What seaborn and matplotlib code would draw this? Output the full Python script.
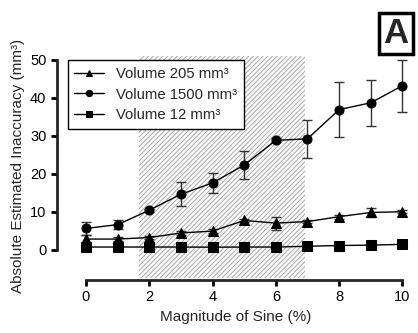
import numpy as np
import pandas as pd
import matplotlib
matplotlib.use("Agg")
import matplotlib.pyplot as plt
from matplotlib.patches import Rectangle
import seaborn as sns

# data
magnitude = [0, 1, 2, 3, 4, 5, 6, 7, 8, 9, 10]
vol_205 = [2.8, 2.8, 3.2, 4.4, 4.9, 7.7, 7.0, 7.4, 8.7, 9.8, 10.0]
err_205 = [1.0, 0.5, 0.3, 0.5, 0.6, 0.5, 1.7, 0.4, 0.5, 1.2, 0.4]
vol_1500 = [5.6, 6.6, 10.4, 14.6, 17.6, 22.3, 28.8, 29.2, 36.9, 38.7, 43.2]
err_1500 = [1.8, 1.2, 0.4, 3.2, 2.7, 3.6, 0.5, 5.0, 7.3, 6.0, 6.8]
vol_12 = [0.7, 0.7, 0.7, 0.7, 0.65, 0.7, 0.7, 0.9, 1.1, 1.2, 1.4]
err_12 = [0.2, 0.2, 0.2, 0.2, 0.2, 0.2, 0.2, 0.2, 0.2, 0.2, 0.2]
series = ["Volume 205 mm³", "Volume 1500 mm³", "Volume 12 mm³"]
shade_range = (1.68, 6.92)

values = [vol_205, vol_1500, vol_12]
errors = [err_205, err_1500, err_12]
df = pd.DataFrame({
    "x": magnitude * 3,
    "y": vol_205 + vol_1500 + vol_12,
    "series": np.repeat(series, len(magnitude)),
})

sns.set_style("ticks")
plt.rcParams["font.family"] = ["Liberation Sans", "DejaVu Sans"]
plt.rcParams["hatch.linewidth"] = 0.6
plt.rcParams["hatch.color"] = "#a0a0a0"

fig = plt.figure(figsize=(4.18, 3.33), dpi=100)
ax = fig.add_axes([0.136, 0.159, 0.857, 0.684])

# shaded window
ax.add_patch(Rectangle((shade_range[0], -7.5), shade_range[1] - shade_range[0], 58.5,
                       facecolor="#fafafa", edgecolor="#a0a0a0", hatch="///////",
                       linewidth=0, zorder=0))

markers = {series[0]: "^", series[1]: "o", series[2]: "s"}
sns.lineplot(data=df, x="x", y="y", hue="series", style="series",
             palette=["black"] * 3, markers=markers, dashes=False,
             markersize=6.5, linewidth=1, markeredgecolor="black", ax=ax, zorder=3)
for v, e in zip(values, errors):
    ax.errorbar(magnitude, v, yerr=e, fmt="none", ecolor="#333333",
                elinewidth=1, capsize=3.5, capthick=1, zorder=2)

ax.set_xlim(-0.92, 10.4)
ax.set_ylim(-8, 52)
ax.set_xticks([0, 2, 4, 6, 8, 10])
ax.set_yticks([0, 10, 20, 30, 40, 50])
ax.spines["top"].set_visible(False)
ax.spines["right"].set_visible(False)
ax.spines["left"].set_bounds(0, 50)
ax.spines["bottom"].set_bounds(0, 10)
for s in ["left", "bottom"]:
    ax.spines[s].set_linewidth(2)
ax.tick_params(width=2, length=4, labelsize=10.5, colors="black")
ax.set_xlabel("Magnitude of Sine (%)", fontsize=11)
ax.set_ylabel("Absolute Estimated Inaccuracy (mm³)", fontsize=11)

leg = ax.legend(loc="upper left", bbox_to_anchor=(0.03, 0.965), fontsize=10.7,
                frameon=True, fancybox=False, edgecolor="black", borderaxespad=0,
                handlelength=2.0, borderpad=0.45, labelspacing=0.45, markerscale=0.7)
leg.get_frame().set_linewidth(1)
leg.get_frame().set_facecolor("white")
leg.get_frame().set_alpha(1)

fig.text(0.947, 0.90, "A", fontsize=25, fontweight="bold", ha="center", va="center",
         bbox=dict(boxstyle="square,pad=0.12", facecolor="white", edgecolor="black", linewidth=2.5))

fig.savefig("out.png", dpi=100)
